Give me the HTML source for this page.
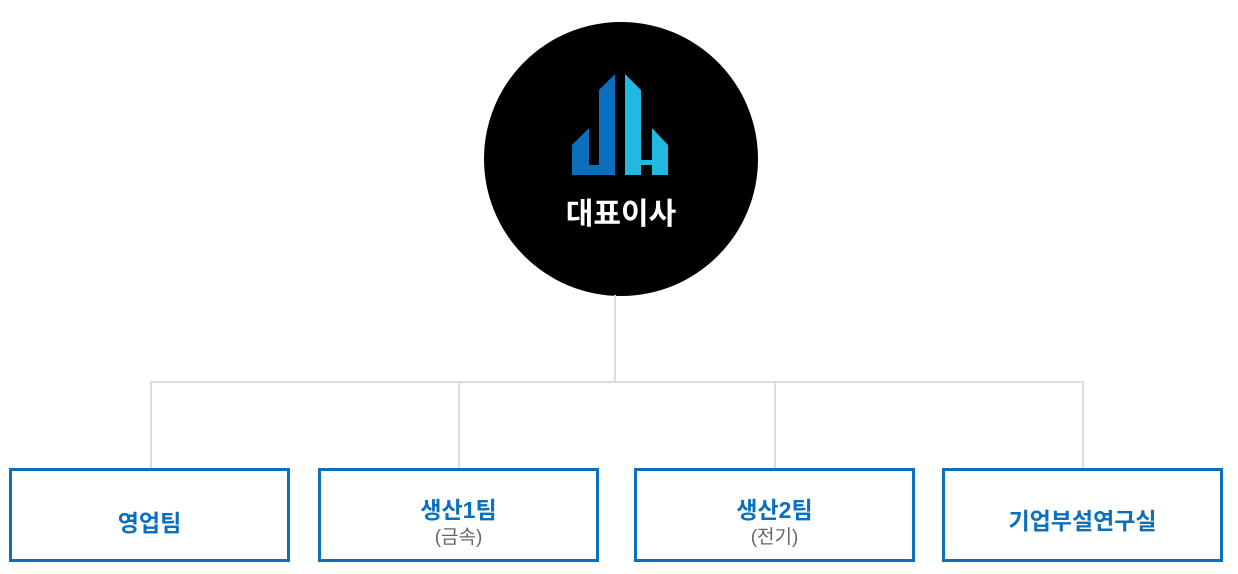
<!DOCTYPE html>
<html><head><meta charset="utf-8"><style>
body{margin:0;width:1238px;height:574px;background:#fff;position:relative;overflow:hidden;font-family:"Liberation Sans","Noto Sans CJK KR",sans-serif}
.b{position:absolute;top:468px;width:275px;height:88px;border:3px solid #0a6fbe;text-align:center;box-sizing:content-box}
.t{color:#0a6fbe;font-weight:bold;font-size:23px;line-height:26px}
.s{color:#666;font-size:19px;line-height:22px;font-weight:normal}
.l{position:absolute;background:#dcdcdc}
</style></head><body>
<div style="position:absolute;left:484px;top:22px;width:274px;height:274px;border-radius:50%;background:#000"></div>
<svg style="position:absolute;left:0;top:0" width="1238" height="300">
<polygon fill="#0a70bd" points="572,145 589,128 589,165 599,165 599,90 615,74 615,175 572,175"/>
<polygon fill="#21b8e2" points="625,74 641,90 641,160 652,160 652,128 668,145 668,175 652,175 652,165 641,165 641,175 625,175"/>
</svg>
<div style="position:absolute;left:484px;width:274px;top:197px;text-align:center;color:#fff;font-weight:bold;font-size:30px;line-height:36px">대표이사</div>
<div class="l" style="left:614px;top:295px;width:2px;height:86px"></div>
<div class="l" style="left:150px;top:381px;width:934px;height:2px"></div>
<div class="l" style="left:150px;top:381px;width:2px;height:88px"></div>
<div class="l" style="left:458px;top:381px;width:2px;height:88px"></div>
<div class="l" style="left:774px;top:381px;width:2px;height:88px"></div>
<div class="l" style="left:1082px;top:381px;width:2px;height:88px"></div>
<div class="b" style="left:9px"><div class="t" style="margin-top:39px">영업팀</div></div>
<div class="b" style="left:318px"><div class="t" style="margin-top:26px">생산1팀</div><div class="s" style="margin-top:4px">(금속)</div></div>
<div class="b" style="left:634px"><div class="t" style="margin-top:26px">생산2팀</div><div class="s" style="margin-top:4px">(전기)</div></div>
<div class="b" style="left:942px"><div class="t" style="margin-top:37px">기업부설연구실</div></div>
</body></html>
